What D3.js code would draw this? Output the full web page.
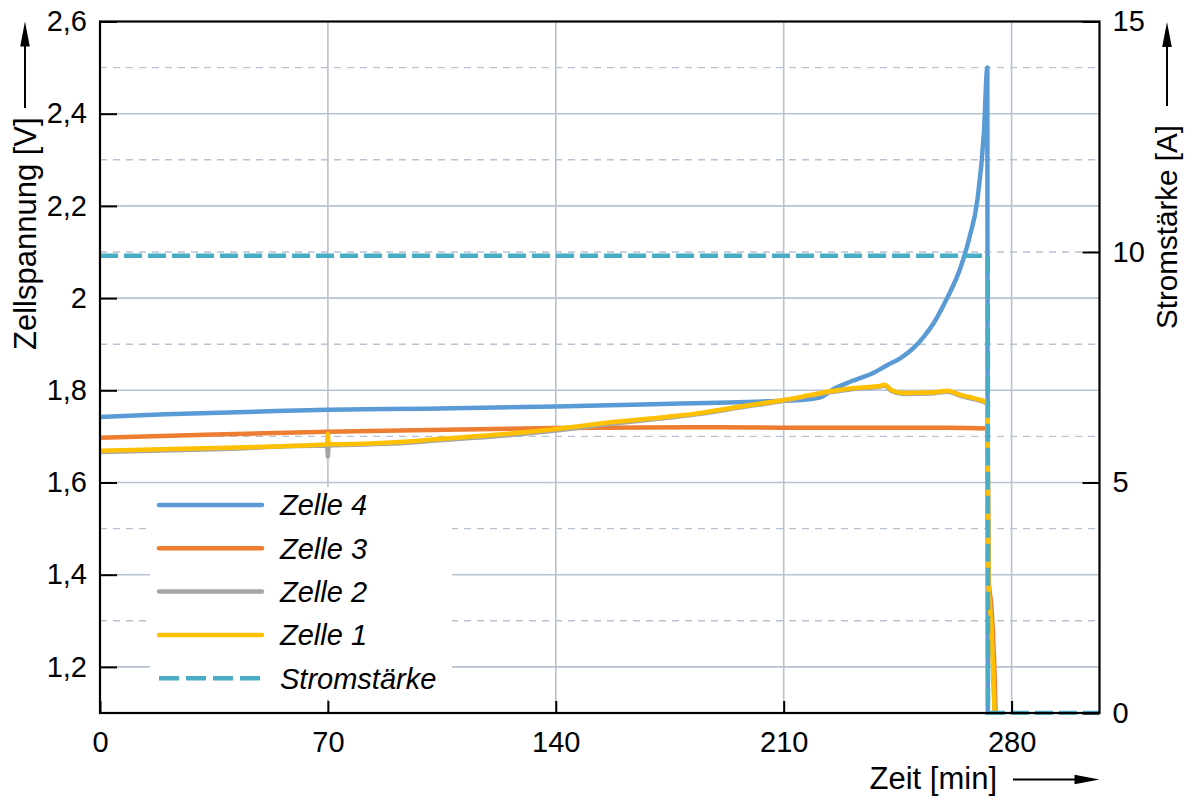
<!DOCTYPE html>
<html>
<head>
<meta charset="utf-8">
<script src="https://cdn.jsdelivr.net/npm/d3@7"></script>
<style>
  html, body { margin: 0; padding: 0; background: #fff; }
  svg { display: block; }
  text { font-family: "Liberation Sans", Arial, Helvetica, sans-serif; fill: #000; }
</style>
</head>
<body>
<svg id="chart" width="1191" height="796"></svg>
<script>
// ---- data -------------------------------------------------------------
// Time axis in minutes, cell voltages in V, current in A.
const zelle4T = [0, 20, 45, 70, 100, 140, 170, 190, 205, 215, 221, 225.4, 230.6, 237.6, 241.9, 245.9, 249.9, 253, 256.1, 259.7, 264.4, 267, 269.5, 271.5, 272.55, 272.7];
const zelle4V = [1.742, 1.748, 1.753, 1.758, 1.760, 1.765, 1.770, 1.773, 1.776, 1.779, 1.784, 1.803, 1.819, 1.838, 1.855, 1.870, 1.892, 1.916, 1.946, 1.993, 2.068, 2.130, 2.2135, 2.359, 2.500, 1.08];

const zelle3T = [0, 30, 70, 92, 140, 190, 210, 240, 260, 272.6, 272.9, 273.8, 274.6, 275.2];
const zelle3V = [1.697, 1.703, 1.710, 1.713, 1.718, 1.720, 1.719, 1.719, 1.719, 1.717, 1.395, 1.33, 1.22, 1.08];

const zelle2T = [0, 35, 69.8, 70, 70.2, 92, 105, 122.5, 140, 155, 175, 184.5, 196.8, 210, 218.3, 223.5, 231.5, 239.8, 241, 243.2, 246.8, 255.1, 260.4, 264.3, 268.3, 271.4, 272.6, 272.9, 273.5, 274.2, 274.9];
const zelle2V = [1.666, 1.672, 1.680, 1.656, 1.680, 1.685, 1.692, 1.701, 1.713, 1.726, 1.741, 1.749, 1.763, 1.777, 1.788, 1.795, 1.803, 1.808, 1.810, 1.798, 1.792, 1.793, 1.797, 1.788, 1.781, 1.775, 1.770, 1.38, 1.32, 1.22, 1.08];

const zelle1T = [0, 35, 69.8, 70, 70.2, 92, 105, 122.5, 140, 155, 175, 184.5, 196.8, 210, 218.3, 223.5, 231.5, 239.8, 241, 243.2, 246.8, 255.1, 260.4, 264.3, 268.3, 271.4, 272.6, 272.9, 273.5, 274.2, 274.9];
const zelle1V = [1.669, 1.675, 1.683, 1.706, 1.683, 1.688, 1.695, 1.704, 1.716, 1.729, 1.743, 1.751, 1.765, 1.779, 1.790, 1.797, 1.805, 1.810, 1.812, 1.800, 1.794, 1.795, 1.799, 1.790, 1.783, 1.777, 1.772, 1.38, 1.32, 1.22, 1.08];

const stromT = [0, 272.7, 272.75, 307];
const stromA = [9.92, 9.92, 0, 0];

const seriesNames = ["Zelle 4", "Zelle 3", "Zelle 2", "Zelle 1", "Stromstärke"];
const seriesColors = ["#5b9bd5", "#ed7d31", "#a5a5a5", "#ffc000", "#4bacc6"];

const xTicks = [0, 70, 140, 210, 280];
const yTicks = [1.2, 1.4, 1.6, 1.8, 2.0, 2.2, 2.4, 2.6];
const y2Ticks = [0, 5, 10, 15];
const y2Grid = [2, 4, 6, 8, 10, 12, 14];

// ---- layout -----------------------------------------------------------
const pLeft = 100, pRight = 1099.5, pTop = 21.5, pBottom = 713;
const svg = d3.select("#chart");

const x = d3.scaleLinear().domain([0, 307]).range([pLeft, pRight]);
const y = d3.scaleLinear().domain([1.1, 2.6]).range([pBottom, pTop]);
const y2 = d3.scaleLinear().domain([0, 15]).range([pBottom, pTop]);

const gridColor = "#b7c2d3";

// grid: solid verticals at time ticks, solid horizontals at voltage ticks,
// dashed horizontals at current steps
const grid = svg.append("g");
grid.selectAll(".gv").data(xTicks.filter(d => d > 0)).join("line")
  .attr("x1", d => x(d)).attr("x2", d => x(d))
  .attr("y1", pTop).attr("y2", pBottom)
  .attr("stroke", gridColor).attr("stroke-width", 1.6);
grid.selectAll(".gh").data(yTicks.filter(d => d < 2.6)).join("line")
  .attr("x1", pLeft).attr("x2", pRight)
  .attr("y1", d => y(d)).attr("y2", d => y(d))
  .attr("stroke", gridColor).attr("stroke-width", 1.6);
grid.selectAll(".gd").data(y2Grid).join("line")
  .attr("x1", pLeft).attr("x2", pRight)
  .attr("y1", d => y2(d)).attr("y2", d => y2(d))
  .attr("stroke", gridColor).attr("stroke-width", 1.4)
  .attr("stroke-dasharray", "7,6");

// clip for the data lines
svg.append("clipPath").attr("id", "plotclip")
  .append("rect").attr("x", pLeft).attr("y", pTop)
  .attr("width", pRight - pLeft).attr("height", pBottom - pTop + 2);

const plot = svg.append("g").attr("clip-path", "url(#plotclip)");

const zip = (ts, vs) => ts.map((t, i) => [t, vs[i]]);
const vLine = d3.line().x(d => x(d[0])).y(d => y(d[1])).curve(d3.curveMonotoneX);
const aLine = d3.line().x(d => x(d[0])).y(d => y2(d[1]));

const cells = [
  zip(zelle4T, zelle4V),
  zip(zelle3T, zelle3V),
  zip(zelle2T, zelle2V),
  zip(zelle1T, zelle1V)
];
cells.forEach((pts, i) => {
  plot.append("path").datum(pts)
    .attr("d", vLine)
    .attr("fill", "none")
    .attr("stroke", seriesColors[i])
    .attr("stroke-width", 4.5)
    .attr("stroke-linejoin", "round");
});

plot.append("path").datum(zip(stromT, stromA))
  .attr("d", aLine)
  .attr("fill", "none")
  .attr("stroke", seriesColors[4])
  .attr("stroke-width", 4.5)
  .attr("stroke-dasharray", "18,6");

// legend
const legend = svg.append("g");
legend.append("rect")
  .attr("x", 150).attr("y", 487).attr("width", 302).attr("height", 212)
  .attr("fill", "#fff");
const rowY = i => 505 + i * 43.3;
seriesNames.forEach((name, i) => {
  legend.append("line")
    .attr("x1", 159).attr("x2", 262)
    .attr("y1", rowY(i)).attr("y2", rowY(i))
    .attr("stroke", seriesColors[i])
    .attr("stroke-width", 4.5)
    .attr("stroke-linecap", i === 4 ? "butt" : "round")
    .attr("stroke-dasharray", i === 4 ? "20,7" : null);
  legend.append("text")
    .attr("x", 280).attr("y", rowY(i)).attr("dy", "0.36em")
    .attr("font-size", 29).attr("font-style", "italic")
    .text(name);
});

// axes with inward ticks
const fmt = d => String(+d.toFixed(1)).replace(".", ",");

const axL = svg.append("g").attr("transform", `translate(${pLeft},0)`)
  .call(d3.axisLeft(y).tickValues(yTicks).tickFormat(fmt)
    .tickSizeInner(-17).tickSizeOuter(0).tickPadding(13));
const axR = svg.append("g").attr("transform", `translate(${pRight},0)`)
  .call(d3.axisRight(y2).tickValues(y2Ticks).tickFormat(d => d)
    .tickSizeInner(-17).tickSizeOuter(0).tickPadding(13));
const axB = svg.append("g").attr("transform", `translate(0,${pBottom})`)
  .call(d3.axisBottom(x).tickValues(xTicks).tickFormat(d => d)
    .tickSizeInner(-12).tickSizeOuter(0).tickPadding(18));

[axL, axR, axB].forEach(g => {
  g.select(".domain").remove();
  g.selectAll(".tick line").attr("stroke", "#000").attr("stroke-width", 2);
  g.selectAll(".tick text")
    .attr("font-size", 29)
    .attr("font-family", "'Liberation Sans', Arial, sans-serif")
    .attr("fill", "#000");
});

// plot frame
svg.append("rect")
  .attr("x", pLeft).attr("y", pTop)
  .attr("width", pRight - pLeft).attr("height", pBottom - pTop)
  .attr("fill", "none").attr("stroke", "#000").attr("stroke-width", 2.2);

// axis titles with arrows
function arrowUp(cx, y0, y1) {
  svg.append("line").attr("x1", cx).attr("x2", cx).attr("y1", y0).attr("y2", y1 + 20)
    .attr("stroke", "#000").attr("stroke-width", 2);
  svg.append("path")
    .attr("d", `M${cx},${y1} L${cx - 4.8},${y1 + 25} L${cx + 4.8},${y1 + 25} Z`)
    .attr("fill", "#000");
}
function arrowRight(cy, x0, x1) {
  svg.append("line").attr("x1", x0).attr("x2", x1 - 20).attr("y1", cy).attr("y2", cy)
    .attr("stroke", "#000").attr("stroke-width", 2);
  svg.append("path")
    .attr("d", `M${x1},${cy} L${x1 - 25},${cy - 4.8} L${x1 - 25},${cy + 4.8} Z`)
    .attr("fill", "#000");
}

svg.append("text")
  .attr("transform", "translate(36,350) rotate(-90)")
  .attr("font-size", 31).attr("text-anchor", "start")
  .text("Zellspannung [V]");
arrowUp(25, 108, 21.5);

svg.append("text")
  .attr("transform", "translate(1177,329) rotate(-90)")
  .attr("font-size", 29.6).attr("text-anchor", "start")
  .text("Stromstärke [A]");
arrowUp(1167, 106, 22);

svg.append("text")
  .attr("x", 997).attr("y", 789)
  .attr("font-size", 31).attr("text-anchor", "end")
  .text("Zeit [min]");
arrowRight(779.5, 1013, 1099.5);
</script>
</body>
</html>
